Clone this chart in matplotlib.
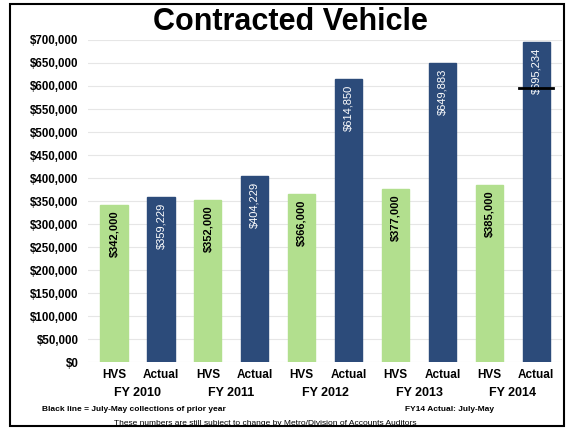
import matplotlib
matplotlib.use("Agg")
import matplotlib.pyplot as plt
from matplotlib.ticker import FuncFormatter, MultipleLocator
from matplotlib.patches import Rectangle

plt.rcParams['font.family'] = ['Liberation Sans', 'DejaVu Sans']

years = ["FY 2010", "FY 2011", "FY 2012", "FY 2013", "FY 2014"]
hvs = [342000, 352000, 366000, 377000, 385000]
actual = [359229, 404229, 614850, 649883, 695234]
prior_year_line = 595000  # black line on FY2014 Actual
bar_labels = ["HVS", "Actual"]

green = "#b2df8e"
blue = "#2c4b7a"

fig = plt.figure(figsize=(5.73, 4.30), dpi=100)
ax = fig.add_axes([0.154, 0.158, 0.827, 0.749])

positions = []
values = []
colors = []
names = []
for i in range(len(years)):
    positions += [2 * i, 2 * i + 1]
    values += [hvs[i], actual[i]]
    colors += [green, blue]
    names += bar_labels

w = 0.58
ax.bar(positions, values, width=w, color=colors, edgecolor=colors, zorder=3)

for p, v, c in zip(positions, values, colors):
    txt = "${:,.0f}".format(v)
    if c == green:
        ax.text(p, v - 12000, txt, rotation=90, ha="center", va="top",
                fontsize=8, fontweight="bold", color="black", zorder=4)
    else:
        ax.text(p, v - 12000, txt, rotation=90, ha="center", va="top",
                fontsize=8, color="white", zorder=4)

# black line on FY 2014 Actual
last = positions[-1]
ax.plot([last - 0.36, last + 0.36], [prior_year_line, prior_year_line],
        color="black", lw=2, zorder=5)

ax.set_ylim(0, 700000)
ax.set_xlim(-0.55, 9.55)
ax.yaxis.set_major_locator(MultipleLocator(50000))
ax.yaxis.set_major_formatter(FuncFormatter(lambda v, p: "${:,.0f}".format(v)))
ax.grid(axis="y", color="#e6e6e6", lw=0.8, zorder=0)
for s in ax.spines.values():
    s.set_visible(False)
ax.tick_params(axis="y", length=0, labelsize=8.3, pad=7)
for lab in ax.get_yticklabels():
    lab.set_fontweight("bold")
ax.set_xticks(positions)
ax.set_xticklabels(names, fontsize=8.5, fontweight="bold")
ax.tick_params(axis="x", length=0, pad=5)

for i, y in enumerate(years):
    ax.text(2 * i + 0.5, -67000, y, ha="center", va="center",
            fontsize=9, fontweight="bold")

fig.text(0.506, 0.948, "Contracted Vehicle", ha="center", va="center",
         fontsize=22, fontweight="bold")
fig.text(0.073, 0.047, "Black line = July-May collections of prior year",
         ha="left", va="center", fontsize=6, fontweight="bold")
fig.text(0.862, 0.047, "FY14 Actual: July-May",
         ha="right", va="center", fontsize=6, fontweight="bold")
fig.text(0.463, 0.016, "These numbers are still subject to change by Metro/Division of Accounts Auditors",
         ha="center", va="center", fontsize=6)

fig.patches.append(Rectangle((0.017, 0.01), 0.968, 0.98, transform=fig.transFigure,
                             fill=False, edgecolor="black", lw=1.5))

fig.savefig("out.png", dpi=100)
